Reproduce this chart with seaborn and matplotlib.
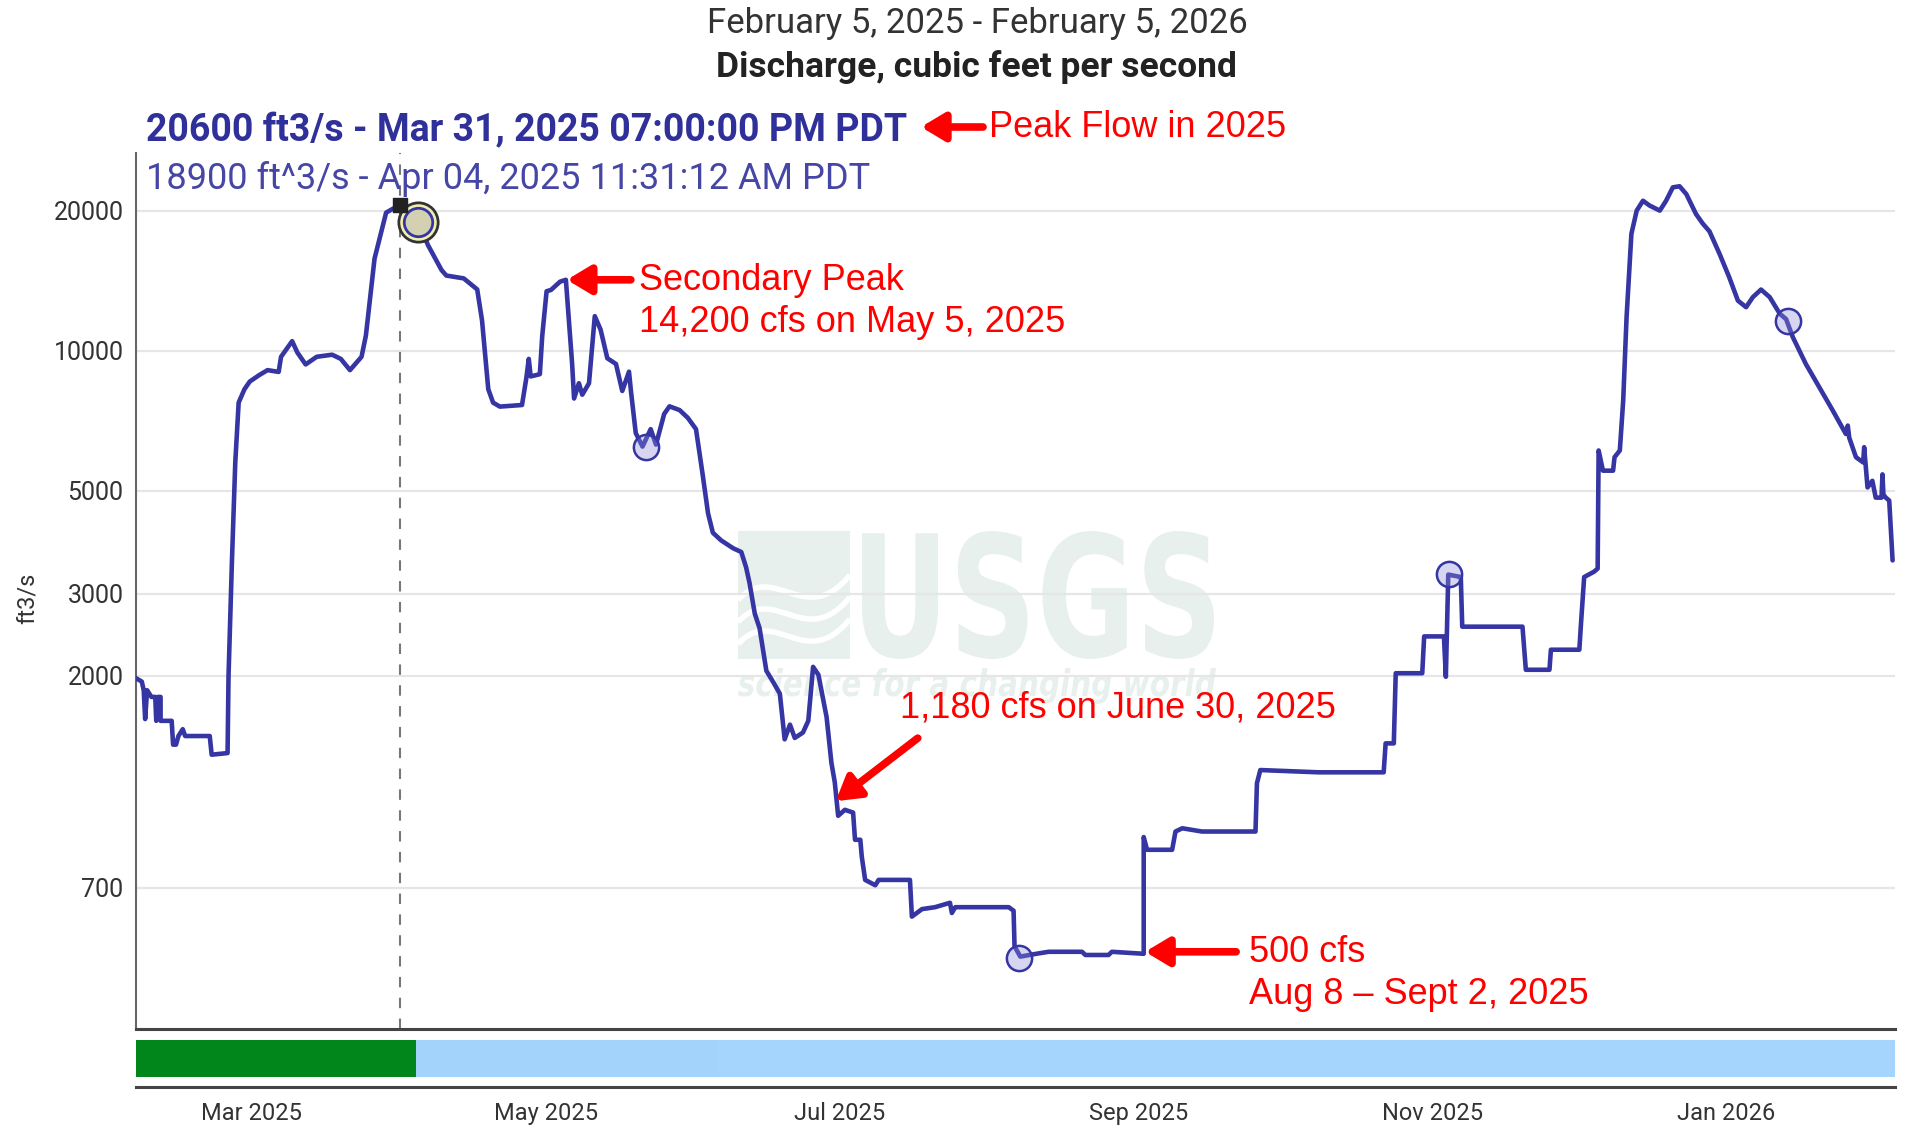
import pandas as pd
import matplotlib
matplotlib.use('Agg')
import matplotlib.pyplot as plt
import matplotlib.dates as mdates
import matplotlib.transforms as mtransforms
from matplotlib.textpath import TextPath
from matplotlib.path import Path
from matplotlib.patches import PathPatch, Rectangle
from matplotlib.font_manager import FontProperties
import seaborn as sns

sns.set_style('white')
plt.rcParams['font.family'] = ['Roboto', 'DejaVu Sans']

# discharge: days after Feb 5, 2025 and ft3/s
start = pd.Timestamp('2025-02-05')
days = [0, 1.2, 1.6, 1.9, 2.3, 3.2, 4.0, 4.2, 4.6, 5.1, 5.1, 7.4, 7.7, 8.3, 8.8, 9.7, 10.2, 15.3, 15.7, 19.0,
        19.2, 19.9, 20.6, 21.3, 22.5, 23.6, 25.5, 27.3, 29.6, 30.1, 32.4, 33.5, 35.2, 37.5, 40.7, 42.5, 44.4,
        46.8, 47.7, 49.5, 51.9, 54.8, 58.5, 60.6, 63.4, 64.4, 68.0, 70.8, 71.8, 73.1, 74.1, 75.5, 80.1, 81.0,
        81.5, 81.9, 83.8, 84.3, 85.2, 86.1, 88.0, 89.2,
        90.5, 90.9, 91.9, 92.6, 94.0, 95.2, 96.4, 97.8, 99.6, 100.9, 102.3, 102.7, 103.7, 105.1, 106.8, 107.9,
        109.6, 110.7, 112.8, 114.5, 116.2, 117.6, 118.7, 119.7, 121.4, 123.9, 125.6, 126.6, 127.3, 128.4, 129.4,
        130.8, 132.2, 133.6, 134.6, 135.7, 136.7, 138.4, 139.5, 140.5, 141.6, 143.3, 144.3, 145.0,
        145.7, 147.1, 148.8, 149.2, 150.3, 150.6, 151.3, 153.4, 154.1, 160.6, 161.0, 163.1, 165.8, 168.9, 169.3,
        170.0, 181.1, 182.1, 182.3, 183.5, 187.3, 189.4, 196.3, 197.0, 201.8, 202.5, 209.1, 209.1, 209.8, 215.0,
        215.7, 217.1, 221.2, 232.3,
        232.6, 233.3, 245.4, 258.9, 259.3, 261.0, 261.4, 266.9, 267.3, 271.4, 271.8, 272.3, 274.9, 275.2, 287.7,
        288.4, 293.3, 293.6, 299.5, 299.8, 300.5, 302.6, 303.3,
        303.5, 304.4, 306.5, 306.8, 307.9, 308.6, 309.3, 310.3, 311.4, 312.7, 314.1, 316.2, 317.5, 318.9, 320.3,
        321.7, 323.7, 325.1, 326.5, 328.6, 330.6, 332.4, 334.1, 335.5, 337.2, 339.0, 341.1, 342.4, 343.8, 346.5,
        349.3, 352.1, 354.8, 355.2, 355.5, 356.9, 358.4, 358.6, 359.3, 360.3, 361.0, 362.2, 362.4, 362.6, 363.1,
        363.8, 364.5]
flow = [1976, 1943, 1862, 1614, 1862, 1801, 1801, 1600, 1801, 1801, 1600, 1600, 1422, 1422, 1484, 1535, 1484,
        1484, 1353, 1364, 2000, 3508, 5750, 7730, 8260, 8580, 8850, 9080, 9000, 9700, 10480, 9900, 9340, 9700,
        9800, 9600, 9080, 9700, 10770, 15770, 19800, 20600, 18900, 16850, 14900, 14500, 14300, 13540, 11620,
        8260, 7730, 7580, 7640, 8740, 9600, 8800, 8900, 10770, 13420, 13500, 14070, 14200,
        9360, 7890, 8510, 8040, 8510, 11860, 11100, 9630, 9360, 8190, 9010, 8190, 6650, 6220, 6780, 6280, 7310,
        7590, 7450, 7170, 6780, 5400, 4470, 4060, 3910, 3760, 3690, 3420, 3170, 2720, 2530, 2050, 1940, 1830,
        1460, 1570, 1470, 1510, 1600, 2090, 2010, 1630, 1300, 1180,
        1000, 1030, 1016, 888, 888, 817, 728, 709, 728, 728, 607, 630, 636, 650, 618, 636, 636, 625, 524, 498,
        506, 510, 510, 502, 502, 510, 505, 900, 845, 845, 925, 940, 925, 925,
        1175, 1254, 1240, 1240, 1431, 1431, 2025, 2025, 2430, 2430, 1990, 3300, 3260, 2550, 2550, 2060, 2060,
        2275, 2275, 2550, 3260, 3350, 3400,
        6100, 5520, 5520, 5900, 6100, 7810, 11800, 17820, 20000, 21000, 20500, 20000, 21000, 22440, 22560, 21700,
        19670, 18760, 18050, 16140, 14380, 12810, 12400, 13030, 13530, 13030, 12000, 11690, 10690, 9360, 8340,
        7430, 6620, 6900, 6500, 5900, 5750, 6200, 5080, 5250, 4830, 4830, 5420, 4900, 4830, 4760, 3540]

# field measurement circles
meas_days = [105.8, 183.2, 272.5, 342.8]
meas_flow = [6220, 495, 3310, 11600]

peak_time = pd.Timestamp('2025-03-31 19:00')
peak_flow = 20600
hover_time = pd.Timestamp('2025-04-04 11:31:12')
hover_flow = 18900

# approval status bar: start/end day, colour
status_start = [0, 58, 121]
status_end = [58, 121, 365]
status_color = ['#00861a', '#a3d2fb', '#a5d4fc']

yticks = [700, 2000, 3000, 5000, 10000, 20000]

dates = start + pd.to_timedelta(days, unit='D')
df = pd.DataFrame({'date': dates, 'flow': flow})

W, H = 1914, 1128
fig = plt.figure(figsize=(W / 100, H / 100), dpi=100)
ax = fig.add_axes([136 / W, 1 - 1029 / H, (1895 - 136) / W, (1029 - 153) / H])
ax2 = fig.add_axes([136 / W, 1 - 1087 / H, (1895 - 136) / W, (1087 - 1038) / H], sharex=ax)

line_c = '#3535a3'
sns.lineplot(data=df, x='date', y='flow', ax=ax, color=line_c, lw=3.3,
             estimator=None, sort=False, zorder=3)

ax.set_yscale('log')
ax.set_ylim(348, 26600)
ax.set_xlim(start, start + pd.Timedelta(days=365))
ax.set_yticks(yticks)
ax.set_yticklabels([str(v) for v in yticks])
ax.yaxis.set_minor_locator(matplotlib.ticker.NullLocator())
ax.grid(axis='y', color='#e6e6e6', lw=1.6)
ax.set_axisbelow(True)
ax.tick_params(axis='y', length=0, labelsize=18, labelcolor='#333333', pad=9)
ax.tick_params(axis='x', bottom=False, labelbottom=False)
ax.set_xlabel('')
ax.set_ylabel('')
for s in ['top', 'right']:
    ax.spines[s].set_visible(False)
ax.spines['left'].set_color('#666666')
ax.spines['left'].set_linewidth(1.5)
ax.spines['bottom'].set_color('#444444')
ax.spines['bottom'].set_linewidth(2.2)

ax.axvline(peak_time, color='#777777', lw=1.5, ls=(0, (5, 5)), zorder=2)

# watermark
wm = '#e7f0ec'


def faint_text(s, x0, y0, w, h, style='normal'):
    tp = TextPath((0, 0), s, size=100,
                  prop=FontProperties(family='DejaVu Sans', weight='bold', style=style))
    bb = tp.get_extents()
    tr = mtransforms.Affine2D().translate(-bb.x0, -bb.y0).scale(w / bb.width, h / bb.height) \
        .translate(x0, H - y0 - h)
    ax.add_artist(PathPatch(tp, transform=tr, fc=wm, ec='none', zorder=0.1))


faint_text('USGS', 862, 531, 352, 128)
faint_text('science for a changing world', 738, 668, 478, 36, style='italic')
ident = mtransforms.IdentityTransform()
ax.add_artist(Rectangle((738, H - 659), 112, 128, transform=ident, fc=wm, ec='none', zorder=0.1))
for dy in [0, 22, 44]:
    wave = Path([(738, H - 600 - dy), (775, H - 560 - dy), (805, H - 630 - dy), (850, H - 575 - dy)],
                [Path.MOVETO, Path.CURVE4, Path.CURVE4, Path.CURVE4])
    ax.add_artist(PathPatch(wave, transform=ident, fc='none', ec='white', lw=4, zorder=0.15))

# markers
ax.scatter(start + pd.to_timedelta(meas_days, unit='D'), meas_flow, s=330,
           facecolor=(0.55, 0.55, 0.85, 0.35), edgecolor=line_c, lw=1.8, zorder=4)
ax.scatter([hover_time], [hover_flow], s=800, facecolor='#f1eeb0', edgecolor='#333333', lw=2, zorder=5)
ax.scatter([hover_time], [hover_flow], s=420, facecolor=(0.75, 0.75, 0.7, 0.6), edgecolor=line_c, lw=2, zorder=6)
ax.scatter([peak_time], [peak_flow], s=110, marker='s', color='#222222', zorder=6)

# red annotations
red = '#ff0000'
afont = dict(family=['Liberation Sans', 'DejaVu Sans'], size=26, color=red)
arrow = dict(arrowstyle='-|>,head_length=0.7,head_width=0.42', color=red, lw=5.5,
             shrinkA=0, shrinkB=0, mutation_scale=20)

sec_time = start + pd.Timedelta(days=89.4)
ax.annotate('', xy=(sec_time, 14200), xytext=(64, 0), textcoords='offset pixels', arrowprops=arrow)
ax.annotate('Secondary Peak\n14,200 cfs on May 5, 2025', xy=(sec_time, 14200), xytext=(72, -22),
            textcoords='offset pixels', ha='left', va='center', linespacing=1.25, **afont)

low_time = start + pd.Timedelta(days=145.2)
ax.annotate('', xy=(low_time, 1075), xytext=(82, 63), textcoords='offset pixels', arrowprops=arrow)
ax.annotate('1,180 cfs on June 30, 2025', xy=(low_time, 1075), xytext=(64, 93),
            textcoords='offset pixels', ha='left', va='center', **afont)

min_time = start + pd.Timedelta(days=209.4)
ax.annotate('', xy=(min_time, 510), xytext=(91, 0), textcoords='offset pixels', arrowprops=arrow)
ax.annotate('500 cfs\nAug 8 \u2013 Sept 2, 2025', xy=(min_time, 510), xytext=(104, -22),
            textcoords='offset pixels', ha='left', va='center', linespacing=1.25, **afont)

# header texts
fig.text(977 / W, 1 - 24 / H, 'February 5, 2025 - February 5, 2026', ha='center', va='center',
         fontsize=25, color='#333333')
fig.text(977 / W, 1 - 67 / H, 'Discharge, cubic feet per second', ha='center', va='center',
         fontsize=25.5, fontweight='bold', color='#222222')
fig.text(146 / W, 1 - 131 / H, '20600 ft3/s - Mar 31, 2025 07:00:00 PM PDT', ha='left', va='center',
         fontsize=27, fontweight='bold', color='#30309a')
fig.text(146 / W, 1 - 179 / H, '18900 ft^3/s - Apr 04, 2025 11:31:12 AM PDT', ha='left', va='center',
         fontsize=26, color='#4646a6')
ax.annotate('', xy=(921, H - 127), xytext=(983, H - 127), xycoords='figure pixels',
            textcoords='figure pixels', arrowprops=arrow, annotation_clip=False)
fig.text(989 / W, 1 - 128 / H, 'Peak Flow in 2025', ha='left', va='center', **afont)
fig.text(27 / W, 1 - 598 / H, 'ft3/s', rotation=90, ha='center', va='center', fontsize=17, color='#333333')

# approval bar
for s0, s1, c in zip(status_start, status_end, status_color):
    ax2.axvspan(start + pd.Timedelta(days=s0), start + pd.Timedelta(days=s1), ymin=0.2, ymax=0.96,
                color=c, lw=0)
ax2.set_ylim(0, 1)
ax2.set_yticks([])
for s in ['top', 'right', 'left']:
    ax2.spines[s].set_visible(False)
ax2.spines['bottom'].set_color('#444444')
ax2.spines['bottom'].set_linewidth(2.2)
ax2.xaxis.set_major_locator(mdates.MonthLocator(bymonth=[1, 3, 5, 7, 9, 11]))
ax2.xaxis.set_major_formatter(mdates.DateFormatter('%b %Y'))
ax2.tick_params(axis='x', length=9, width=1.2, color='#777777', labelsize=17, labelcolor='#333333', pad=2)
ax2.set_xlim(start, start + pd.Timedelta(days=365))

fig.savefig('out.png', dpi=100)
